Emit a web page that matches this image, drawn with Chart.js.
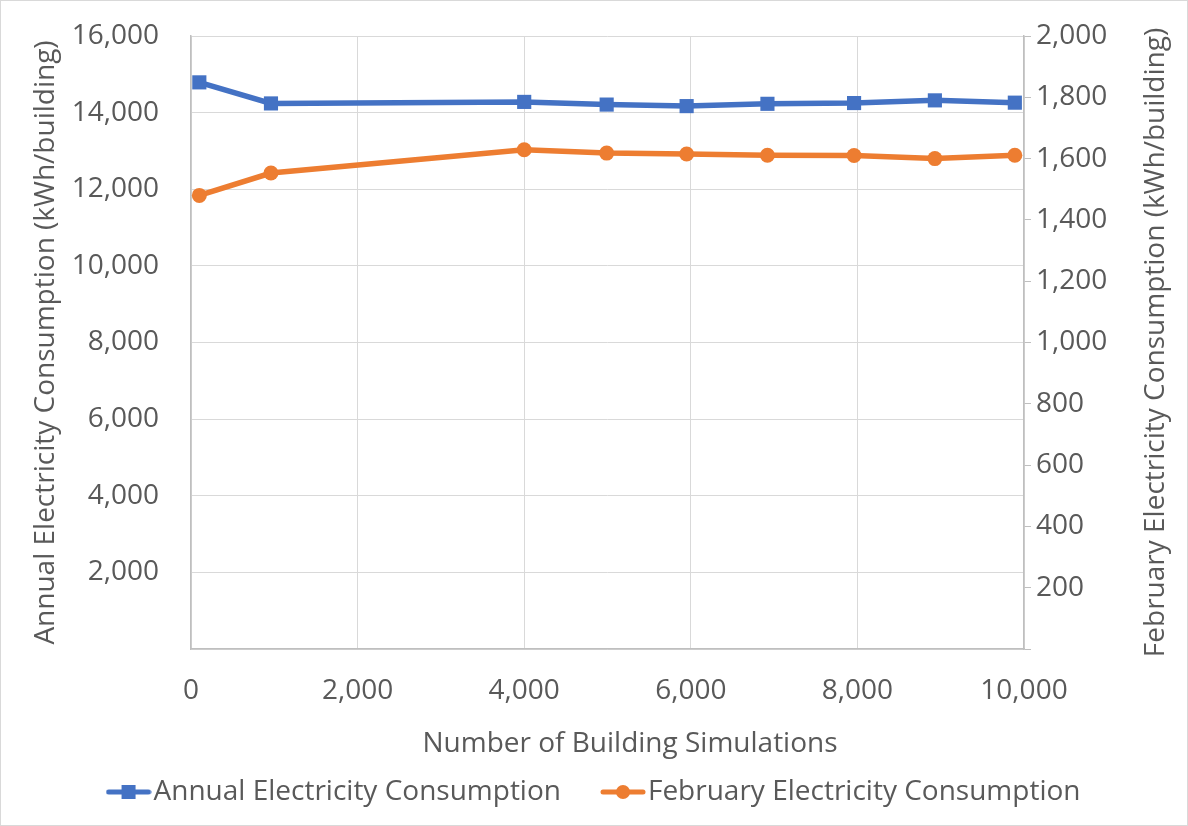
<!DOCTYPE html>
<html>
<head>
<meta charset="utf-8">
<script src="https://cdn.jsdelivr.net/npm/chart.js@4.4.1/dist/chart.umd.min.js"></script>
<style>
  html, body { margin: 0; padding: 0; background: #fff; }
  #wrap { position: relative; width: 1186px; height: 824px; border: 1px solid #d9d9d9; }
</style>
</head>
<body>
<div id="wrap"><canvas id="chart"></canvas></div>
<script>
// Data
const simulations = [100, 960, 4000, 4990, 5950, 6920, 7960, 8930, 9890];
const annualKwh = [14790, 14240, 14280, 14210, 14170, 14230, 14250, 14320, 14260];
const februaryKwh = [1480, 1553, 1629, 1618, 1615, 1611, 1610, 1600, 1611];

const annualLabel = 'Annual Electricity Consumption';
const februaryLabel = 'February Electricity Consumption';
const xTitle = 'Number of Building Simulations';
const leftTitle = 'Annual Electricity Consumption (kWh/building)';
const rightTitle = 'February Electricity Consumption (kWh/building)';

const blue = '#4472C4';
const orange = '#ED7D31';
const textColor = '#595959';
const gridColor = '#d9d9d9';
const fontFamily = "'Open Sans', 'Noto Sans', sans-serif";
const fontSize = 28;

// Legend marker: line with the point shape on it
function legendMarker(color, shape) {
    const c = document.createElement('canvas');
    c.width = 46;
    c.height = 16;
    const g = c.getContext('2d');
    g.strokeStyle = color;
    g.lineWidth = 5;
    g.lineCap = 'round';
    g.beginPath();
    g.moveTo(3, 8);
    g.lineTo(43, 8);
    g.stroke();
    g.fillStyle = color;
    if (shape === 'rect') {
        g.fillRect(16, 1, 14, 14);
    } else {
        g.beginPath();
        g.arc(23, 8, 7, 0, Math.PI * 2);
        g.fill();
    }
    return c;
}

const fmt = v => v.toLocaleString('en-US');

// Axis titles drawn by hand: x title sits right of centre, right title reads bottom-to-top
const titlesPlugin = {
    id: 'titles',
    afterDraw(chart) {
        const ctx = chart.ctx;
        const area = chart.chartArea;
        ctx.save();
        ctx.fillStyle = textColor;
        ctx.font = `${fontSize}px ${fontFamily}`;
        ctx.textAlign = 'center';
        ctx.textBaseline = 'middle';
        ctx.fillText(xTitle, 629, 743);
        ctx.translate(1155, (area.top + area.bottom) / 2);
        ctx.rotate(-Math.PI / 2);
        ctx.fillText(rightTitle, 0, 0);
        ctx.restore();
    }
};

const ctx = document.getElementById('chart').getContext('2d');
const chart = new Chart(ctx, {
    type: 'line',
    data: {
        datasets: [{
            label: annualLabel,
            data: simulations.map((x, i) => ({ x: x, y: annualKwh[i] })),
            yAxisID: 'y',
            borderColor: blue,
            backgroundColor: blue,
            borderWidth: 5.5,
            pointStyle: 'rect',
            pointRadius: 10,
            pointBorderWidth: 0,
            tension: 0
        }, {
            label: februaryLabel,
            data: simulations.map((x, i) => ({ x: x, y: februaryKwh[i] })),
            yAxisID: 'y1',
            borderColor: orange,
            backgroundColor: orange,
            borderWidth: 5.5,
            pointStyle: 'circle',
            pointRadius: 7.5,
            pointBorderWidth: 0,
            tension: 0
        }]
    },
    options: {
        responsive: true,
        maintainAspectRatio: false,
        animation: false,
        layout: { padding: { top: 35, left: 10, right: 0, bottom: 9 } },
        plugins: {
            tooltip: { enabled: false },
            legend: {
                position: 'bottom',
                labels: {
                    color: textColor,
                    font: { family: fontFamily, size: fontSize },
                    usePointStyle: true,
                    pointStyleWidth: 22,
                    padding: 51,
                    generateLabels(chart) {
                        return chart.data.datasets.map((ds, i) => ({
                            text: ds.label,
                            fontColor: textColor,
                            pointStyle: legendMarker(ds.borderColor, ds.pointStyle),
                            datasetIndex: i,
                            lineWidth: 0,
                            strokeStyle: 'transparent',
                            fillStyle: 'transparent'
                        }));
                    }
                }
            }
        },
        scales: {
            x: {
                type: 'linear',
                min: 0,
                max: 10000,
                ticks: {
                    stepSize: 2000,
                    color: textColor,
                    font: { family: fontFamily, size: fontSize },
                    padding: 25,
                    maxRotation: 0,
                    callback: v => fmt(v)
                },
                grid: { color: gridColor, drawTicks: false },
                border: { color: '#bfbfbf', width: 1.5 },
                afterFit(scale) { scale.height = 78; }
            },
            y: {
                position: 'left',
                min: 0,
                max: 16000,
                ticks: {
                    stepSize: 2000,
                    color: textColor,
                    font: { family: fontFamily, size: fontSize },
                    padding: 32,
                    callback: v => (v === 0 ? '' : fmt(v))
                },
                grid: { color: gridColor, drawTicks: false },
                border: { color: '#bfbfbf', width: 1.5 },
                title: {
                    display: true,
                    text: leftTitle,
                    color: textColor,
                    font: { family: fontFamily, size: fontSize },
                    padding: { top: 18, bottom: 0 }
                },
                afterFit(scale) {
                    scale.width = 180;
                    scale.paddingTop = 0;
                    scale.paddingBottom = 0;
                }
            },
            y1: {
                position: 'right',
                min: 0,
                max: 2000,
                ticks: {
                    stepSize: 200,
                    color: textColor,
                    font: { family: fontFamily, size: fontSize },
                    padding: 5,
                    callback: v => (v === 0 ? '' : fmt(v))
                },
                grid: { drawOnChartArea: false, color: '#bfbfbf', tickLength: 7 },
                border: { color: '#bfbfbf', width: 1.5 },
                afterFit(scale) {
                    scale.width = 1186 - 1023;
                    scale.paddingTop = 0;
                    scale.paddingBottom = 0;
                }
            }
        }
    },
    plugins: [titlesPlugin]
});
</script>
</body>
</html>
